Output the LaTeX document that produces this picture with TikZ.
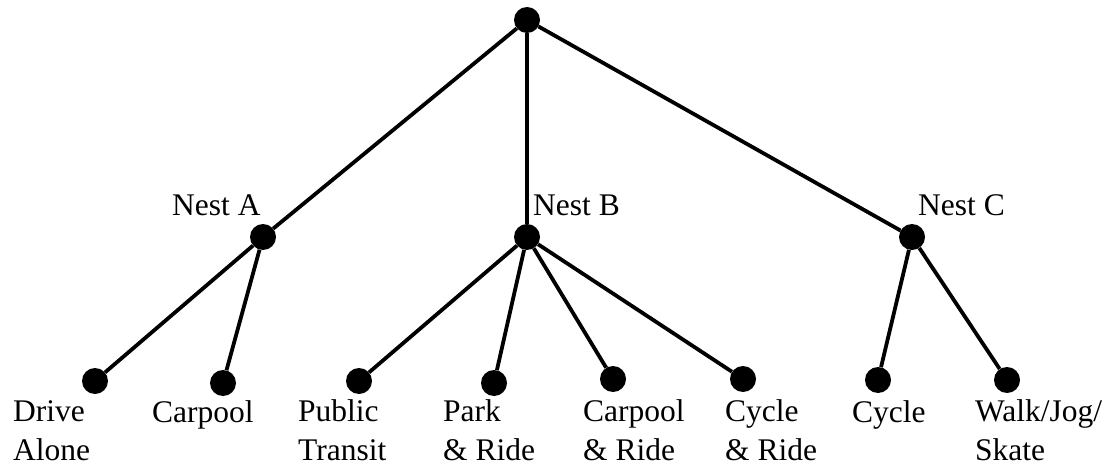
\documentclass[tikz,border=0pt]{standalone}
\usepackage{fontspec}
\setmainfont{Liberation Serif}
\begin{document}
\begin{tikzpicture}[x=1pt,y=-1pt,
  dot/.style={circle,fill=black,inner sep=0pt,minimum size=26pt},
  edge/.style={line width=3.8pt},
  lbl/.style={font=\fontsize{31.5}{38.5}\selectfont,inner sep=0pt,align=left,anchor=base west}]
\useasboundingbox (0,0) rectangle (1114,468);
\node[dot] (root) at (527,20) {};
\node[dot] (A) at (263,237) {};
\node[dot] (B) at (527,237) {};
\node[dot] (C) at (912,237) {};
\node[dot] (l1) at (95,381) {};
\node[dot] (l2) at (223,383) {};
\node[dot] (l3) at (359,381) {};
\node[dot] (l4) at (494,383) {};
\node[dot] (l5) at (613,379) {};
\node[dot] (l6) at (743,379) {};
\node[dot] (l7) at (878,380) {};
\node[dot] (l8) at (1007,380) {};
\foreach \n in {A,B,C} \draw[edge] (root) -- (\n);
\foreach \n in {l1,l2} \draw[edge] (A) -- (\n);
\foreach \n in {l3,l4,l5,l6} \draw[edge] (B) -- (\n);
\foreach \n in {l7,l8} \draw[edge] (C) -- (\n);
\node[lbl] (tA) at (172,215) {Nest A};
\node[lbl] (tB) at (533,215) {Nest B};
\node[lbl] (tC) at (918,215) {Nest C};
\node[lbl] (t1) at (13,460) {Drive\\Alone};
\node[lbl] (t2) at (152,422) {Carpool};
\node[lbl] (t3) at (298,460) {Public\\Transit};
\node[lbl] (t4) at (443,460) {Park\\\& Ride};
\node[lbl] (t5) at (583,460) {Carpool\\\& Ride};
\node[lbl] (t6) at (725,460) {Cycle\\\& Ride};
\node[lbl] (t7) at (852,422) {Cycle};
\node[lbl] (t8) at (975,460) {Walk/Jog/\\Skate};
\end{tikzpicture}
\end{document}
